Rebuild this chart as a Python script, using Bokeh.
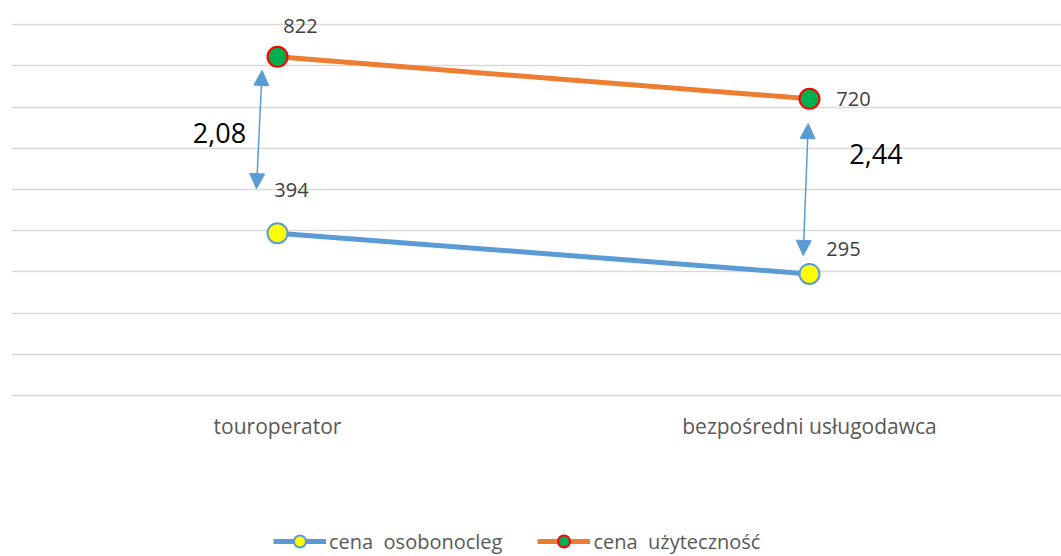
from bokeh.plotting import figure
from bokeh.models import (Range1d, FixedTicker, Legend, LegendItem, Arrow,
                          NormalHead, ColumnDataSource, Grid)
from bokeh.core.properties import value
from bokeh.embed import file_html
from bokeh.resources import INLINE

# ---- data ----
categories = ["touroperator", "bezpośredni usługodawca"]
cena_osobonocleg = [394, 295]
cena_uzytecznosc = [822, 720]
series_names = ["cena  osobonocleg", "cena  użyteczność"]
y_ticks = [0, 100, 200, 300, 400, 500, 600, 700, 800, 900]

# ratio annotations (text and where they sit, in data units)
ratio_labels = ["2,08", "2,44"]
ratio_x = [-0.109, 1.125]
ratio_y = [636, 587]

# double-headed arrows between the series (data units)
arrow_x_top = [-0.029, 0.9976]
arrow_y_top = [789, 660]
arrow_x_bot = [-0.0395, 0.9882]
arrow_y_bot = [502, 340]

# data label pixel offsets
osob_dx = [14, 34]
osob_dy = [-43, -25]
uzyt_dx = [23, 44]
uzyt_dy = [-31, 0]

FONT = "Open Sans"
BLUE = "#5B9BD5"
ORANGE = "#ED7D31"
GRID = "#D9D9D9"

xs = list(range(len(categories)))

p = figure(width=1061, height=556,
           x_range=Range1d(-0.5, 1.4737), y_range=Range1d(-390.8, 958.7),
           output_backend="svg", toolbar_location=None,
           y_axis_location=None,
           min_border_left=11, min_border_right=0, min_border_top=0,
           min_border_bottom=0)
p.outline_line_color = None
p.background_fill_color = "white"
p.xgrid.visible = False
p.ygrid.visible = False

p.add_layout(Grid(dimension=1, ticker=FixedTicker(ticks=y_ticks),
                  grid_line_color=GRID, grid_line_width=1.3))

ax = p.xaxis[0]
ax.fixed_location = 0
ax.ticker = FixedTicker(ticks=xs)
ax.major_label_overrides = {i: c for i, c in zip(xs, categories)}
ax.major_tick_line_color = None
ax.minor_tick_line_color = None
ax.axis_line_color = None
ax.major_label_text_font = FONT
ax.major_label_text_font_size = "21px"
ax.major_label_text_color = "#595959"
ax.major_label_standoff = 11

src1 = ColumnDataSource(dict(x=xs, y=cena_osobonocleg,
                             t=[str(v) for v in cena_osobonocleg],
                             dx=osob_dx, dy=osob_dy))
src2 = ColumnDataSource(dict(x=xs, y=cena_uzytecznosc,
                             t=[str(v) for v in cena_uzytecznosc],
                             dx=uzyt_dx, dy=uzyt_dy))

l1 = p.line("x", "y", source=src1, line_color=BLUE, line_width=5)
s1 = p.scatter("x", "y", source=src1, size=20, fill_color="#FFFF00",
               line_color=BLUE, line_width=2)
l2 = p.line("x", "y", source=src2, line_color=ORANGE, line_width=5)
s2 = p.scatter("x", "y", source=src2, size=20, fill_color="#00B050",
               line_color="#FF0000", line_width=2)

for src in (src1, src2):
    p.text("x", "y", text="t", source=src, x_offset="dx", y_offset="dy",
           text_font=value(FONT), text_font_size="20px",
           text_color="#404040", text_align="center",
           text_baseline="middle")

p.text(x=ratio_x, y=ratio_y, text=ratio_labels, text_font=value(FONT),
       text_font_size="27px", text_color="#000000", text_align="center",
       text_baseline="middle")

for xt, yt, xb, yb in zip(arrow_x_top, arrow_y_top, arrow_x_bot, arrow_y_bot):
    p.add_layout(Arrow(
        start=NormalHead(size=15, fill_color=BLUE, line_color=BLUE, line_width=1),
        end=NormalHead(size=15, fill_color=BLUE, line_color=BLUE, line_width=1),
        x_start=xb, y_start=yb, x_end=xt, y_end=yt,
        line_color=BLUE, line_width=1.5))

legend = Legend(items=[LegendItem(label=series_names[0], renderers=[l1, s1]),
                       LegendItem(label=series_names[1], renderers=[l2, s2])],
                orientation="horizontal", location=(262, 0),
                glyph_width=53, glyph_height=30, label_standoff=3,
                spacing=35, padding=0, margin=0,
                label_text_font=FONT, label_text_font_size="20px",
                label_text_color="#595959",
                border_line_color=None, background_fill_alpha=0)
p.add_layout(legend, "center")

open("out.html", "w").write(file_html(p, INLINE))
